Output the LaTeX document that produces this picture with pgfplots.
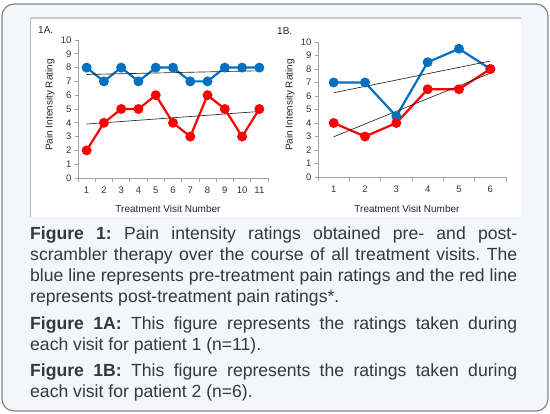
\documentclass[border=0pt]{standalone}
\usepackage{fontspec}
\setmainfont{Liberation Sans}
\usepackage{pgfplots}
\pgfplotsset{compat=1.18}
\definecolor{preblue}{HTML}{0070C0}
\definecolor{postred}{HTML}{FF0000}
\definecolor{boxbg}{HTML}{F3F6FA}
\definecolor{boxline}{HTML}{858585}
\definecolor{captext}{HTML}{383838}
\definecolor{axgray}{HTML}{A0A0A0}

\pgfplotsset{
  painaxis/.style={
    scale only axis,
    anchor=south west,
    axis lines*=left,
    axis line style={draw=axgray, line width=0.8pt},
    ymin=0, ymax=10, ytick={0,...,10},
    tick align=outside,
    major tick length=3pt,
    minor tick length=4pt,
    tick style={draw=axgray, line width=0.7pt},
    major x tick style={draw=none},
    ticklabel style={font=\fontsize{9.5}{10}\selectfont, text=black!80},
    xticklabel style={yshift=-2pt},
    /pgf/number format/assume math mode=true,
    clip=false,
  },
  pre/.style={preblue, line width=2.2pt, mark=*, mark size=3.8pt, mark options={solid}},
  post/.style={postred, line width=2.2pt, mark=*, mark size=3.8pt, mark options={solid}},
  trend/.style={black!85, line width=0.65pt, no marks},
}

\begin{document}
\frenchspacing
\begin{tikzpicture}[x=1pt, y=1pt]
\path (0,0) rectangle (550,414);
% outer box and white chart panel
\draw[boxline, line width=1.2pt, fill=boxbg, rounded corners=12pt] (2,3) rectangle (548,410);
\fill[white] (30,197) rectangle (521,396);
\draw[gray!40, line width=1.5pt] (30,396) -- (521,396);
\draw[gray!55, line width=1pt] (30,197) -- (30,396);

% 1A: patient 1
\begin{axis}[painaxis, at={(78pt,236pt)}, width=190pt, height=138pt,
  xmin=0.5, xmax=11.5, xtick={1,...,11},
  minor xtick={0.5,1.5,2.5,3.5,4.5,5.5,6.5,7.5,8.5,9.5,10.5,11.5}]
\addplot[pre] coordinates {(1,8) (2,7) (3,8) (4,7) (5,8) (6,8) (7,7) (8,7) (9,8) (10,8) (11,8)};
\addplot[post] coordinates {(1,2) (2,4) (3,5) (4,5) (5,6) (6,4) (7,3) (8,6) (9,5) (10,3) (11,5)};
\addplot[trend] coordinates {(1,7.50) (11,7.77)};
\addplot[trend] coordinates {(1,3.91) (11,4.82)};
\end{axis}

% 1B: patient 2
\begin{axis}[painaxis, at={(318pt,237pt)}, width=188pt, height=135pt,
  xmin=0.5, xmax=6.5, xtick={1,...,6},
  minor xtick={0.5,1.5,2.5,3.5,4.5,5.5,6.5}]
\addplot[pre] coordinates {(1,7) (2,7) (3,4.5) (4,8.5) (5,9.5) (6,8)};
\addplot[post] coordinates {(1,4) (2,3) (3,4) (4,6.5) (5,6.5) (6,8)};
\addplot[trend] coordinates {(1,6.24) (6,8.59)};
\addplot[trend] coordinates {(1,2.98) (6,7.69)};
\end{axis}

\begin{scope}[every node/.style={font=\fontsize{10}{11}\selectfont, text=black!85, inner sep=0pt}]
\node[anchor=west] at (38,384) {1A.};
\node[anchor=west] at (277,383) {1B.};
\node[rotate=90] at (50,309) {Pain Intensity Rating};
\node[rotate=90] at (290,309) {Pain Intensity Rating};
\node at (168,205) {Treatment Visit Number};
\node at (407,205) {Treatment Visit Number};
\end{scope}

% caption
\begin{scope}[every node/.style={anchor=base west, inner sep=0pt, text=captext,
    font=\fontsize{17.6}{21}\selectfont}]
\node at (30,174) {\makebox[487pt][s]{\textbf{Figure 1:} Pain intensity ratings obtained pre- and post-}};
\node at (30,153) {\makebox[487pt][s]{scrambler therapy over the course of all treatment visits. The}};
\node at (30,132) {\makebox[487pt][s]{blue line represents pre-treatment pain ratings and the red line}};
\node at (30,111) {represents post-treatment pain ratings*.};
\node at (30,84.5) {\makebox[487pt][s]{\textbf{Figure 1A:} This figure represents the ratings taken during}};
\node at (30,63.5) {each visit for patient 1 (n=11).};
\node at (30,37) {\makebox[487pt][s]{\textbf{Figure 1B:} This figure represents the ratings taken during}};
\node at (30,16) {each visit for patient 2 (n=6).};
\end{scope}
\end{tikzpicture}
\end{document}
